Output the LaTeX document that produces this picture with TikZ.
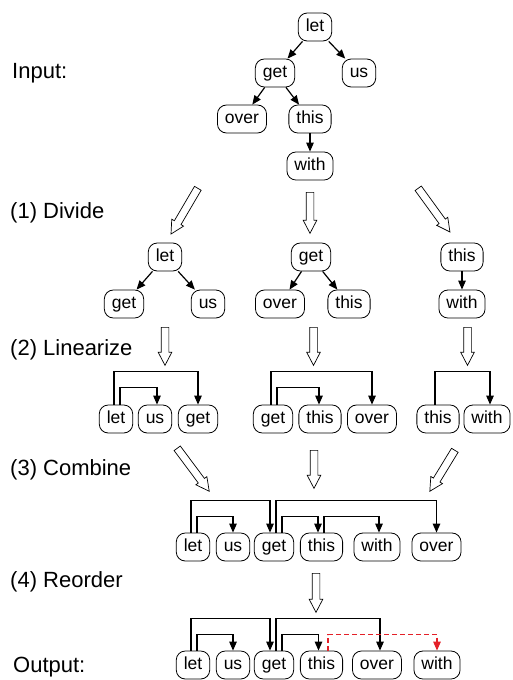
\documentclass[tikz,border=0pt]{standalone}
\usepackage{fontspec}
\setmainfont{Liberation Sans}
\usetikzlibrary{arrows.meta,shapes.arrows}
\definecolor{movered}{RGB}{228,32,40}
\tikzset{
  word/.style={draw, rounded corners=9pt, line width=0.8pt, font=\fontsize{17.5}{20}\selectfont,
    inner xsep=7.5pt, inner ysep=0pt, text height=12.5pt, text depth=3.5pt, minimum height=28pt},
  lab/.style={anchor=west, inner sep=0pt, font=\fontsize{22}{26}\selectfont},
  link/.style={-{Triangle[length=9pt,width=7.5pt]}, line width=1.2pt},
  moved/.style={link, movered, dash pattern=on 5pt off 3pt},
  hollow/.style={single arrow, draw, line width=0.7pt, inner sep=3.5pt,
    single arrow head extend=3pt, single arrow tip angle=55, anchor=tail}
}
\begin{document}
\begin{tikzpicture}[x=1pt,y=-1pt]
\useasboundingbox (0,0) rectangle (513,680);

\node[lab] (Lin)  at (12,73)  {Input:};
\node[lab] (Ldiv) at (10,213) {(1) Divide};
\node[lab] (Llin) at (10,350) {(2) Linearize};
\node[lab] (Lcom) at (10,470) {(3) Combine};
\node[lab] (Lreo) at (10,582) {(4) Reorder};
\node[lab] (Lout) at (13,667) {Output:};

\node[word] (let0)  at (315,27)  {let};
\node[word] (get0)  at (275,73)  {get};
\node[word] (us0)   at (359,73)  {us};
\node[word] (over0) at (242,119) {over};
\node[word] (this0) at (310,119) {this};
\node[word] (with0) at (310,166) {with};

\draw[link] (let0) -- (get0);
\draw[link] (let0) -- (us0);
\draw[link] (get0) -- (over0);
\draw[link] (get0) -- (this0);
\draw[link] (this0) -- (with0);

\node[hollow, minimum height=53pt, rotate=-120.4] (div1) at (198,188) {};
\node[hollow, minimum height=41pt, rotate=-90]    (div2) at (310,192) {};
\node[hollow, minimum height=54pt, rotate=-54]    (div3) at (418,188) {};

\node[word] (let1)  at (165,257) {let};
\node[word] (get1)  at (124,304) {get};
\node[word] (us1)   at (208,304) {us};
\node[word] (get2)  at (311,257) {get};
\node[word] (over2) at (280,304) {over};
\node[word] (this2) at (349,304) {this};
\node[word] (this3) at (462,257) {this};
\node[word] (with3) at (462,304) {with};

\draw[link] (let1) -- (get1);
\draw[link] (let1) -- (us1);
\draw[link] (get2) -- (over2);
\draw[link] (get2) -- (this2);
\draw[link] (this3) -- (with3);

\node[hollow, minimum height=38pt, rotate=-90] (lin1) at (165,327) {};
\node[hollow, minimum height=38pt, rotate=-90] (lin2) at (313.5,327) {};
\node[hollow, minimum height=38pt, rotate=-90] (lin3) at (467.5,327) {};

\node[word] (let4)  at (116,419) {let};
\node[word] (us4)   at (155,419) {us};
\node[word] (get4)  at (198,419) {get};
\node[word] (get5)  at (273,419) {get};
\node[word] (this5) at (320,419) {this};
\node[word] (over5) at (372,419) {over};
\node[word] (this6) at (438,419) {this};
\node[word] (with6) at (487,419) {with};

\draw[link] ([xshift=-2pt]let4.north) -- ++(0,-33) -| (get4.north);
\draw[link] ([xshift=4pt]let4.north) -- ++(0,-17) -| ([xshift=2pt]us4.north);
\draw[link] ([xshift=-2pt]get5.north) -- ++(0,-33) -| (over5.north);
\draw[link] ([xshift=4pt]get5.north) -- ++(0,-17) -| ([xshift=-1pt]this5.north);
\draw[link] ([xshift=-3pt]this6.north) -- ++(0,-33) -| ([xshift=3pt]with6.north);

\node[hollow, minimum height=53.6pt, rotate=-53.3] (com1) at (177,448) {};
\node[hollow, minimum height=38pt, rotate=-90]     (com2) at (314,450) {};
\node[hollow, minimum height=48pt, rotate=-121.4]  (com3) at (455,450) {};

\node[word] (let7)  at (193,547)   {let};
\node[word] (us7)   at (233,547)   {us};
\node[word] (get7)  at (274,547)   {get};
\node[word] (this7) at (321.5,547) {this};
\node[word] (with7) at (377,547)   {with};
\node[word] (over7) at (436.5,547) {over};

\draw[link] ([xshift=-2pt]let7.north) -- ++(0,-32) -| ([xshift=-4pt]get7.north);
\draw[link] ([xshift=4pt]let7.north) -- ++(0,-16) -| (us7.north);
\draw[link] ([xshift=2pt]get7.north) -- ++(0,-32) -| (over7.north);
\draw[link] ([xshift=8pt]get7.north) -- ++(0,-16) -| ([xshift=-3.5pt]this7.north);
\draw[link] ([xshift=2.5pt]this7.north) -- ++(0,-16) -| ([xshift=2pt]with7.north);

\node[hollow, minimum height=39pt, rotate=-90] (reo) at (316,573) {};

\node[word] (let8)  at (193,665)   {let};
\node[word] (us8)   at (233,665)   {us};
\node[word] (get8)  at (274,665)   {get};
\node[word] (this8) at (321.5,665) {this};
\node[word] (over8) at (377,665)   {over};
\node[word] (with8) at (437,665)   {with};

\draw[link] ([xshift=-2pt]let8.north) -- ++(0,-32) -| ([xshift=-4pt]get8.north);
\draw[link] ([xshift=4pt]let8.north) -- ++(0,-16) -| (us8.north);
\draw[link] ([xshift=2pt]get8.north) -- ++(0,-32) -| ([xshift=3pt]over8.north);
\draw[link] ([xshift=8pt]get8.north) -- ++(0,-16) -| ([xshift=-3pt]this8.north);
\draw[moved] ([xshift=6.5pt]this8.north) -- ++(0,-16) -| (with8.north);
\end{tikzpicture}
\end{document}
